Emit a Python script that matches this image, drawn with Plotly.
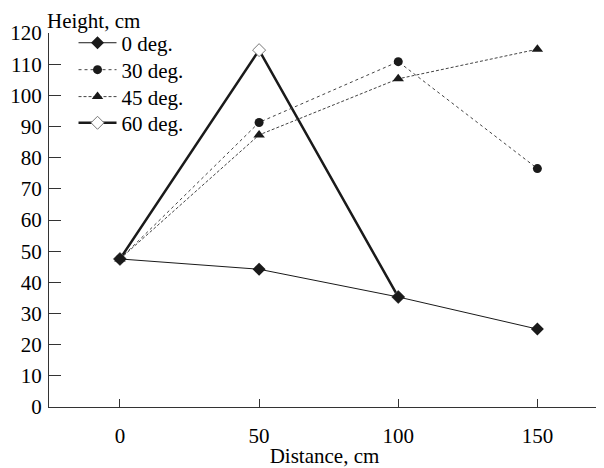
import plotly.graph_objects as go

distance = [0, 50, 100, 150]
deg0 = [47.5, 44.2, 35.3, 25.0]
deg30 = [47.5, 91.3, 110.8, 76.5]
deg45 = [47.5, 87.3, 105.3, 114.8]
deg60_x = [0, 50, 100]
deg60 = [47.5, 114.5, 35.3]

x_ticks = [0, 50, 100, 150]
y_ticks = list(range(0, 130, 10))

FONT = "Liberation Serif"
INK = "#1a1a1a"
FS = 21

fig = go.Figure()

fig.add_trace(go.Scatter(
    x=deg60_x, y=deg60, name="60 deg.", mode="lines+markers",
    line=dict(color=INK, width=2.5),
    marker=dict(symbol="diamond", size=10, color="white", line=dict(color="#777", width=1)),
    legend="legend4"))
fig.add_trace(go.Scatter(
    x=distance, y=deg30, name="30 deg.", mode="lines+markers",
    line=dict(color="#444", width=1, dash="dot"),
    marker=dict(symbol="circle", size=9, color=INK),
    legend="legend2"))
fig.add_trace(go.Scatter(
    x=distance, y=deg45, name="45 deg.", mode="lines+markers",
    line=dict(color="#444", width=1, dash="3px,2px"),
    marker=dict(symbol="triangle-up", size=10, color=INK),
    legend="legend3"))
fig.add_trace(go.Scatter(
    x=distance, y=deg0, name="0 deg.", mode="lines+markers",
    line=dict(color=INK, width=1),
    marker=dict(symbol="diamond", size=10, color=INK),
    legend="legend"))

def leg(yc):
    return dict(x=0.0445, y=yc, xanchor="left", yanchor="middle",
                bgcolor="rgba(0,0,0,0)", font=dict(size=FS, family=FONT),
                itemwidth=38)

fig.update_layout(
    width=596, height=460,
    margin=dict(l=41, r=4, t=25, b=61),
    paper_bgcolor="white", plot_bgcolor="white",
    font=dict(family=FONT, size=FS, color="black"),
    showlegend=True,
    legend=leg(0.973), legend2=leg(0.901), legend3=leg(0.829), legend4=leg(0.759),
    xaxis=dict(range=[-25.5, 172.5], tickvals=x_ticks, ticks="inside", ticklen=8,
               tickcolor="#333", showline=True, linecolor="#333", linewidth=1,
               showgrid=False, zeroline=False, tickfont=dict(size=FS), automargin=False,
               ticklabelstandoff=10,
               title=dict(text="Distance, cm", font=dict(size=FS), standoff=2)),
    yaxis=dict(range=[0, 120], tickvals=y_ticks, ticks="inside", ticklen=12,
               tickcolor="#333", showline=True, linecolor="#333", linewidth=1,
               showgrid=False, zeroline=False, tickfont=dict(size=FS), automargin=False,
               ticklabelstandoff=2),
    annotations=[dict(text="Height, cm", x=-0.005, y=1, xref="paper", yref="paper",
                      xanchor="left", yanchor="bottom", yshift=-1, showarrow=False,
                      borderpad=0, font=dict(size=FS, family=FONT))],
)

fig.write_html("out.html")
